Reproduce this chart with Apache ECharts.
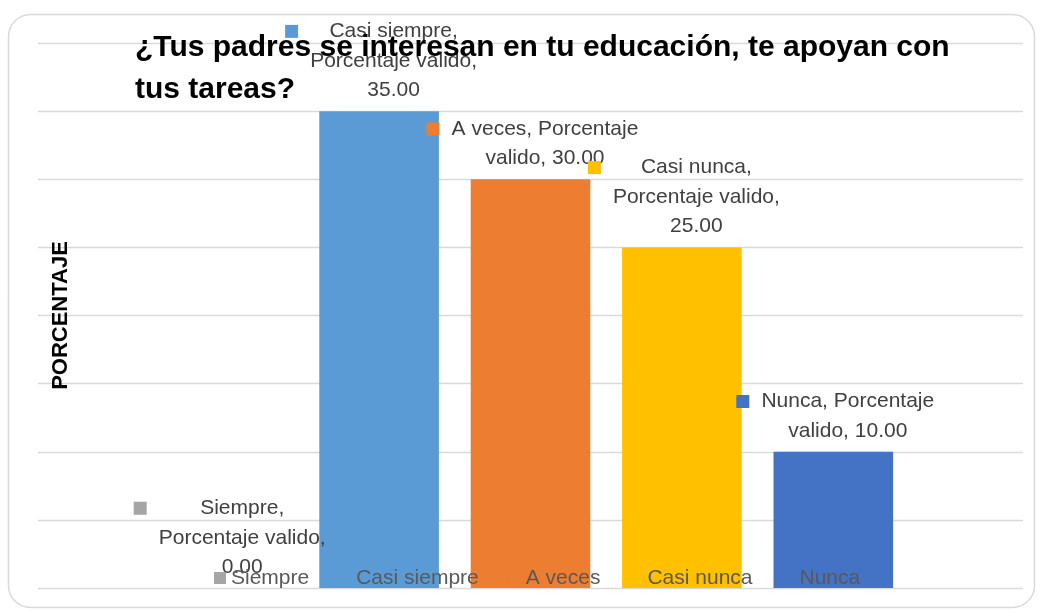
<!DOCTYPE html>
<html>
<head>
<meta charset="utf-8">
<script src="https://cdn.jsdelivr.net/npm/echarts@6/dist/echarts.min.js"></script>
<style>html,body{margin:0;padding:0;background:#fff;}#c{width:1041px;height:610px;}</style>
</head>
<body>
<div id="c"></div>
<script>
// ---- data ----
const categories = ['Siempre', 'Casi siempre', 'A veces', 'Casi nunca', 'Nunca'];
const values = [0, 35, 30, 25, 10];
const seriesName = 'Porcentaje valido';
const titleText = '¿Tus padres se interesan en tu educación, te apoyan con\ntus tareas?';
const yAxisName = 'PORCENTAJE';
const yMin = 0, yMax = 40, yStep = 5;

// ---- styles ----
const palette = ['#A5A5A5', '#5B9BD5', '#ED7D31', '#FFC000', '#4472C4'];
const FONT = '"Liberation Sans", Arial, sans-serif';
const LABEL_SIZE = 21;
const ctx = document.createElement('canvas').getContext('2d');
ctx.font = LABEL_SIZE + 'px "Liberation Sans"';
const MAXW = LABEL_SIZE * 8.98;

function wrap(text) {
  const words = text.split(' ');
  const lines = [];
  let cur = '';
  for (const w of words) {
    const t = cur ? cur + ' ' + w : w;
    if (cur && ctx.measureText(t).width > MAXW) { lines.push(cur); cur = w; }
    else cur = t;
  }
  lines.push(cur);
  return lines;
}

const series = categories.map((cat, i) => {
  const lines = wrap(cat + ', ' + seriesName + ', ' + values[i].toFixed(2));
  const W = Math.ceil(Math.max(...lines.map(l => ctx.measureText(l).width)));
  const text = lines.map((l, k) => (k === 0 ? '{m| }{g| }' : '{s| }') + '{t|' + l + '}').join('\n');
  return {
    name: cat,
    type: 'bar',
    stack: 'total',
    xAxisIndex: 0,
    yAxisIndex: 0,
    barCategoryGap: '21%',
    itemStyle: { color: palette[i] },
    data: categories.map((c, j) => (j === i ? values[i] : null)),
    label: {
      show: true,
      position: 'top',
      distance: 6,
      offset: [2, 0],
      lineHeight: 29.5,
      formatter: () => text,
      rich: {
        m: { width: 13, height: 13, backgroundColor: palette[i], lineHeight: 29.5 },
        g: { width: 12, lineHeight: 29.5 },
        s: { width: 25, lineHeight: 29.5 },
        t: { width: W, align: 'center', fontSize: LABEL_SIZE, lineHeight: 29.5, color: '#404040', fontFamily: FONT }
      }
    }
  };
});

const chart = echarts.init(document.getElementById('c'), null, { renderer: 'canvas' });
chart.setOption({
  backgroundColor: '#fff',
  animation: false,
  title: {
    text: titleText,
    left: 135,
    top: 27,
    padding: 0,
    textStyle: { fontFamily: FONT, fontWeight: 'bold', fontSize: 30, lineHeight: 42, color: '#000' }
  },
  legend: {
    data: categories,
    left: 214,
    top: 566,
    itemWidth: 12,
    itemHeight: 12,
    itemGap: 30,
    icon: 'rect',
    padding: 0,
    textStyle: { fontFamily: FONT, fontSize: 21, color: '#595959', lineHeight: 24 }
  },
  graphic: [{
    type: 'rect',
    z: -10,
    shape: { x: 8.5, y: 14.5, width: 1026, height: 593, r: 22 },
    style: { fill: 'none', stroke: '#D9D9D9', lineWidth: 1.5 }
  }],
  grid: [
    { left: 152, right: 132, top: 43, bottom: 22 },
    { left: 38, right: 18, top: 43, bottom: 22 }
  ],
  xAxis: [
    { gridIndex: 0, type: 'category', data: categories,
      axisLine: { show: false }, axisTick: { show: false }, axisLabel: { show: false } },
    { gridIndex: 1, type: 'value', min: 0, max: 1, show: false }
  ],
  yAxis: [
    { gridIndex: 0, type: 'value', min: yMin, max: yMax, interval: yStep,
      axisLine: { show: false }, axisTick: { show: false }, axisLabel: { show: false },
      splitLine: { show: false },
      name: yAxisName, nameLocation: 'middle', nameRotate: 90, nameGap: 91,
      nameTextStyle: { fontFamily: FONT, fontWeight: 'bold', fontSize: 22, color: '#000', verticalAlign: 'middle' } },
    { gridIndex: 1, type: 'value', min: yMin, max: yMax, interval: yStep,
      axisLine: { show: false }, axisTick: { show: false }, axisLabel: { show: false },
      splitLine: { show: true, lineStyle: { color: '#D9D9D9', width: 1.3 } } }
  ],
  series: series
});
</script>
</body>
</html>
